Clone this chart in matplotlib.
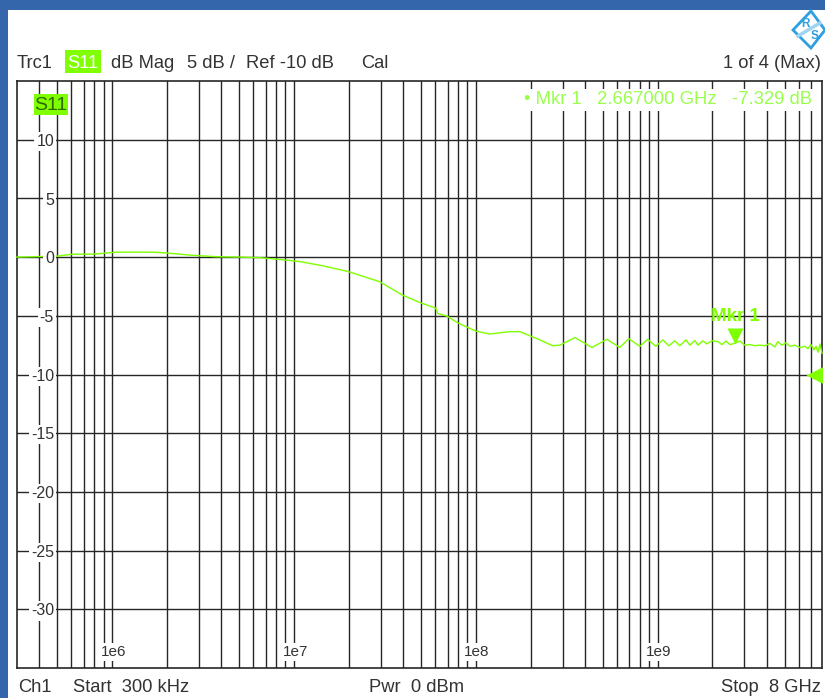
import numpy as np
import matplotlib
matplotlib.use('Agg')
import matplotlib.pyplot as plt
from matplotlib.lines import Line2D
from matplotlib.patches import Polygon, Rectangle
from matplotlib.ticker import NullFormatter

plt.rcParams['font.family'] = ['Liberation Sans', 'DejaVu Sans']

W, H = 825, 698

# trace, frequency in MHz, level in dB
freq_mhz = [0.3, 0.5, 0.61, 0.785, 1.06, 1.68, 2.0, 2.68, 3.77, 5.05, 6.5, 8.37, 10.8, 14.5, 19.8,
            29.7, 39.7, 49.9, 60.3, 61.8, 70.1, 79.6, 100, 119, 154, 175, 198, 217, 225, 265, 290,
            351, 435, 526, 619, 694, 798, 883, 977, 1067, 1151, 1242, 1324, 1429, 1503, 1600, 1663,
            1770, 1862, 1986, 2143, 2254, 2372, 2495, 2667, 2831, 3013, 3214, 3420, 3648, 3882, 4140,
            4406, 4571, 4808, 5070, 5333, 5675, 6053, 6442, 6699, 6950, 7228, 7413, 7603, 7798, 8000]
level_db = [0.0, 0.08, 0.25, 0.25, 0.42, 0.42, 0.35, 0.17, 0.03, 0.0, -0.05, -0.2, -0.38, -0.75, -1.22,
            -2.1, -3.25, -3.9, -4.35, -4.8, -5.05, -5.6, -6.3, -6.55, -6.35, -6.35, -6.7, -6.95, -7.05, -7.55, -7.5,
            -6.85, -7.7, -7.0, -7.7, -6.95, -7.6, -7.0, -7.6, -7.05, -7.55, -7.13, -7.55, -7.05, -7.5, -7.1, -7.5,
            -7.13, -7.4, -7.13, -7.2, -7.45, -7.15, -7.45, -7.33, -7.15, -7.5, -7.45, -7.55, -7.5, -7.55, -7.35,
            -7.65, -7.2, -7.5, -7.3, -7.6, -7.5, -7.7, -7.6, -7.8, -7.45, -7.9, -7.6, -8.1, -7.4, -8.2]

db_ticks = [10, 5, 0, -5, -10, -15, -20, -25, -30]
decade_ticks = [1e6, 1e7, 1e8, 1e9]
decade_labels = ['1e6', '1e7', '1e8', '1e9']
minor_freqs = [m * 10.0 ** e for e in range(5, 10) for m in range(1, 10)]
marker_freq = 2.667e9
marker_db = -7.329
ref_db = -10

GREEN = '#7fff00'
TXT_GREEN = '#99ff4d'
GRID = '#262626'
TXT = '#333333'
LOGO = '#2f9fe0'


def px(x, y):
    # screen pixel (from top left) to figure coords
    return x / W, 1 - y / H


fig = plt.figure(figsize=(W / 100, H / 100), dpi=100, facecolor='white')
fig.add_artist(Rectangle((0, 1 - 10 / H), 1, 10 / H, transform=fig.transFigure, color='#3366aa', lw=0))
fig.add_artist(Rectangle((0, 0), 8 / W, 1, transform=fig.transFigure, color='#3366aa', lw=0))

left, right, top, bottom = 16.7, 822, 81, 668
ax = fig.add_axes([left / W, 1 - bottom / H, (right - left) / W, (bottom - top) / H])
ax.set_xscale('log')
ax.set_xlim(3e5, 8e9)
ax.set_ylim(-35, 15)
ax.set_xticks([f for f in minor_freqs if 3e5 < f < 8e9])
ax.set_xticks([], minor=True)
ax.set_yticks(db_ticks)
ax.xaxis.set_major_formatter(NullFormatter())
ax.yaxis.set_major_formatter(NullFormatter())
ax.tick_params(length=0)
ax.grid(True, color=GRID, lw=1.0)
ax.set_axisbelow(True)
for s in ax.spines.values():
    s.set_color(GRID)
    s.set_linewidth(1.2)

ax.plot(np.array(freq_mhz) * 1e6, level_db, color=GREEN, lw=1.0, zorder=3, clip_on=False)

# dB labels sit on the left part of the grid
trans_y = ax.get_yaxis_transform()
for v in db_ticks:
    ax.annotate(str(v), ((54 - left) / (right - left), v), xycoords=trans_y, xytext=(0, -1.2),
                textcoords='offset points', ha='right', va='center', fontsize=11.5, color=TXT, zorder=4,
                bbox=dict(facecolor='white', edgecolor='none', pad=1.5))

trans_x = ax.get_xaxis_transform()
for f, lab in zip(decade_ticks, decade_labels):
    ax.annotate(lab, (f, (668 - 652) / (bottom - top)), xycoords=trans_x, xytext=(1, 0), textcoords='offset points',
                ha='center', va='center', fontsize=11, color=TXT, zorder=4,
                bbox=dict(facecolor='white', edgecolor='none', pad=1.5))

# marker
ax.plot([marker_freq], [marker_db + 0.65], marker='v', ms=12, color=GREEN, mec='none', zorder=5, ls='none')
ax.text(marker_freq, marker_db + 2.3, 'Mkr 1', ha='center', va='center', fontsize=13.5, fontweight='bold',
        color=GREEN, zorder=5)
ax.plot([(815 - left) / (right - left)], [ref_db], transform=trans_y, marker='<', ms=12.5, color=GREEN, mec='none',
        zorder=5, ls='none')

ax.text((812 - left) / (right - left), (668 - 100) / (bottom - top), '\u2022 Mkr 1   2.667000 GHz   -7.329 dB',
        transform=ax.transAxes, ha='right', va='center', fontsize=13.3, color=TXT_GREEN, zorder=6,
        bbox=dict(facecolor='white', edgecolor='none', pad=2))
ax.add_patch(Rectangle(((34 - left) / (right - left), (668 - 115) / (bottom - top)), 34 / (right - left),
                       21 / (bottom - top), transform=ax.transAxes, facecolor=GREEN, edgecolor='none', zorder=6))
ax.text((51 - left) / (right - left), (668 - 105) / (bottom - top), 'S11', transform=ax.transAxes, ha='center',
        va='center', fontsize=14, color='#2f6b00', zorder=7)

# header and footer
for x, txt, ha in [(17, 'Trc1', 'left'), (111, 'dB Mag', 'left'), (187, '5 dB /', 'left'), (246, 'Ref -10 dB', 'left'),
                   (361, 'Cal', 'left'), (821, '1 of 4 (Max)', 'right')]:
    fig.text(*px(x, 64), txt, ha=ha, va='center', fontsize=13.2, color=TXT)
fig.add_artist(Rectangle(px(65, 73), 36 / W, 23 / H, transform=fig.transFigure, facecolor=GREEN, edgecolor='none'))
fig.text(*px(83, 63), 'S11', ha='center', va='center', fontsize=13.2, color='white')
for x, txt, ha in [(18, 'Ch1', 'left'), (73, 'Start  300 kHz', 'left'), (369, 'Pwr  0 dBm', 'left'),
                   (821, 'Stop  8 GHz', 'right')]:
    fig.text(*px(x, 687), txt, ha=ha, va='center', fontsize=13.2, color=TXT)

# R&S logo
fig.add_artist(Polygon([px(811, 11), px(825, 30), px(811, 48), px(793, 30)], closed=True, transform=fig.transFigure,
                       facecolor='white', edgecolor=LOGO, lw=2))
fig.add_artist(Line2D([798 / W, 820 / W], [1 - 36 / H, 1 - 23 / H], transform=fig.transFigure, color='#9fd4f2', lw=2.5))
fig.text(*px(805, 24), 'R', ha='center', va='center', fontsize=8.5, color=LOGO, fontweight='bold')
fig.text(*px(815, 36), 'S', ha='center', va='center', fontsize=8.5, color=LOGO, fontweight='bold')

fig.savefig('out.png', dpi=100)
